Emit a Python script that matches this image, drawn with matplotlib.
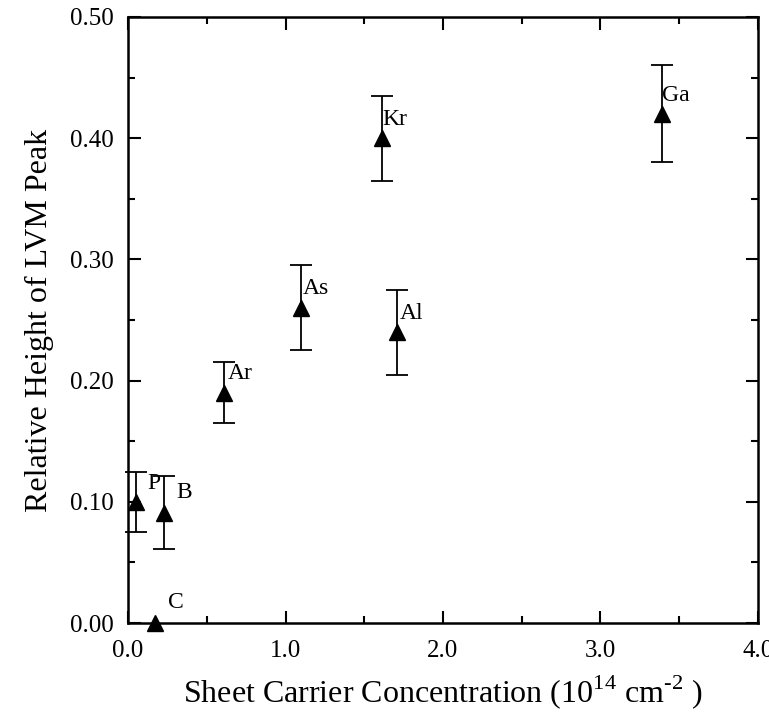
import matplotlib
matplotlib.use("Agg")
import matplotlib.pyplot as plt
from matplotlib.ticker import MultipleLocator, FormatStrFormatter

plt.rcParams['font.family'] = ['Liberation Serif', 'DejaVu Serif']
plt.rcParams['mathtext.fontset'] = 'custom'
plt.rcParams['mathtext.rm'] = 'Liberation Serif'

labels = ['P', 'B', 'C', 'Ar', 'As', 'Al', 'Kr', 'Ga']
conc = [0.05, 0.23, 0.17, 0.61, 1.10, 1.71, 1.61, 3.39]
height = [0.100, 0.091, 0.000, 0.190, 0.260, 0.240, 0.400, 0.420]
err_lo = [0.025, 0.030, 0.000, 0.025, 0.035, 0.035, 0.035, 0.040]
err_hi = [0.025, 0.030, 0.000, 0.025, 0.035, 0.035, 0.035, 0.040]
# label offsets in pixels (dx, dy)
label_off = {'P': (11, 18), 'B': (12, 20), 'C': (13, 20), 'Ar': (4, 19),
             'As': (2, 19), 'Al': (2, 19), 'Kr': (1, 19), 'Ga': (0, 18)}

fig = plt.figure(figsize=(7.69, 7.19), dpi=100)
ax = fig.add_axes([128/769, 1-623/719, (758-128)/769, (623-17)/719])

for i in range(len(labels)):
    if err_lo[i] > 0:
        ax.errorbar(conc[i], height[i], yerr=[[err_lo[i]], [err_hi[i]]], fmt='none',
                    ecolor='black', elinewidth=1.3, capsize=8, capthick=1.3,
                    clip_on=False, zorder=3)
ax.plot(conc, height, linestyle='none', marker='^', color='black', markersize=12,
        clip_on=False, zorder=4)

for i, lab in enumerate(labels):
    dx, dy = label_off[lab]
    ax.annotate(lab, (conc[i], height[i]), xytext=(dx*0.72, dy*0.72),
                textcoords='offset points', ha='left', va='center', fontsize=17)

ax.set_xlim(0, 4.0)
ax.set_ylim(0, 0.50)
ax.xaxis.set_major_locator(MultipleLocator(1.0))
ax.xaxis.set_minor_locator(MultipleLocator(0.5))
ax.yaxis.set_major_locator(MultipleLocator(0.1))
ax.yaxis.set_minor_locator(MultipleLocator(0.05))
ax.xaxis.set_major_formatter(FormatStrFormatter('%.1f'))
ax.yaxis.set_major_formatter(FormatStrFormatter('%.2f'))
ax.tick_params(which='both', direction='in', top=True, right=True, width=1.5)
ax.tick_params(which='major', length=9, labelsize=18)
ax.tick_params(axis='y', which='major', pad=10)
ax.tick_params(axis='x', which='major', pad=12)
ax.tick_params(which='minor', length=5)
for s in ax.spines.values():
    s.set_linewidth(1.8)

ax.set_xlabel(r'Sheet Carrier Concentration (10$^{14}$ cm$^{\text{-2}}$ )', fontsize=23, labelpad=8)
ax.set_ylabel('Relative Height of LVM Peak', fontsize=23, labelpad=12)

fig.savefig('out.png', dpi=100)
